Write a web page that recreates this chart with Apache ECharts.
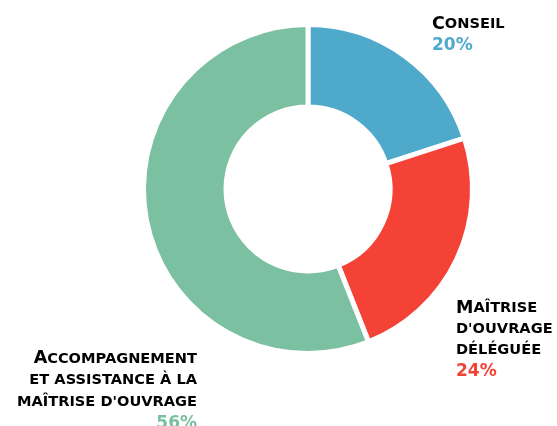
<!DOCTYPE html>
<html><head><meta charset="utf-8">
<script src="https://cdn.jsdelivr.net/npm/echarts@6/dist/echarts.min.js"></script>
<style>html,body{margin:0;padding:0;background:#fff}#c{width:557px;height:426px}</style>
</head><body><div id="c"></div>
<script>
var categories = ['Conseil', "Maîtrise d'ouvrage déléguée", "Accompagnement et assistance à la maîtrise d'ouvrage"];
var values = [20, 24, 56];
var labelLines = [
  ['Conseil'],
  ['Maîtrise', "d'ouvrage", 'déléguée'],
  ['Accompagnement', 'et assistance à la', "maîtrise d'ouvrage"]
];
var colors = ['#4FA9CB', '#F44336', '#7BC0A0'];
var labelPos = [
  {x: 432, y: 14, align: 'left', lh: 21},
  {x: 456, y: 298, align: 'left', lh: 21},
  {x: 197, y: 348, align: 'right', lh: 21.7}
];

function fmtLine(line, first) {
  var s = '';
  if (first) {
    var c = line.charAt(0);
    s += '{big|' + c.toUpperCase() + '}';
    line = line.slice(1);
  }
  return s + '{small|' + line.toUpperCase() + '}';
}

var data = categories.map(function (name, i) {
  var al = labelPos[i].align;
  var lh = labelPos[i].lh;
  var rich = {
    big: {fontFamily: 'DejaVu Sans', fontWeight: 'bold', fontSize: 17.5, color: '#000', lineHeight: lh, align: al},
    small: {fontFamily: 'DejaVu Sans', fontWeight: 'bold', fontSize: 14.6, color: '#000', lineHeight: lh, align: al},
    pct: {fontFamily: 'DejaVu Sans', fontWeight: 'bold', fontSize: 17, color: colors[i], lineHeight: lh, align: al}
  };
  return {
    name: name,
    value: values[i],
    itemStyle: {color: colors[i]},
    label: {
      formatter: labelLines[i].map(function (l, j) { return fmtLine(l, j === 0); }).join('\n') + '\n{pct|' + values[i] + '%}',
      rich: rich,
      align: al,
      overflow: 'none'
    }
  };
});

var chart = echarts.init(document.getElementById('c'));
chart.setOption({
  animation: false,
  series: [{
    type: 'pie',
    center: [308, 189],
    radius: [82, 164.5],
    startAngle: 90,
    clockwise: true,
    itemStyle: {borderColor: '#fff', borderWidth: 5},
    label: {show: true, position: 'outside', overflow: 'none', width: 400},
    labelLine: {show: false},
    emphasis: {disabled: true},
    labelLayout: function (p) {
      var lp = labelPos[p.dataIndex];
      return {x: lp.x, y: lp.y, align: lp.align, verticalAlign: 'top', width: 400};
    },
    data: data
  }]
});
</script>
</body></html>
